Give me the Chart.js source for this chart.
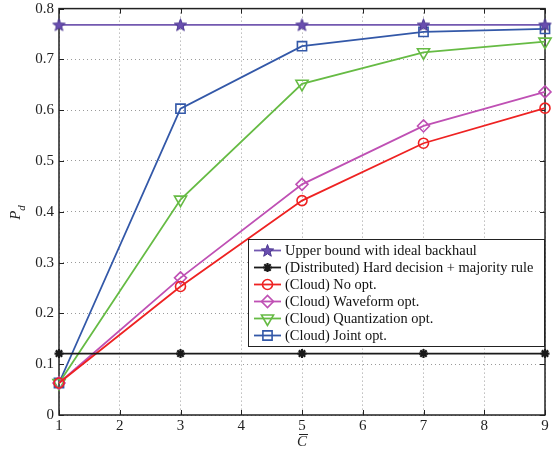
<!DOCTYPE html>
<html>
<head>
<meta charset="utf-8">
<script src="https://cdn.jsdelivr.net/npm/chart.js@4/dist/chart.umd.min.js"></script>
<style>
html,body{margin:0;padding:0;background:#fff;}
#wrap{width:554px;height:451px;}
</style>
</head>
<body>
<div id="wrap"><canvas id="c" width="554" height="451"></canvas></div>
<script>
// ---- data ----
const cValues = [1, 3, 5, 7, 9];
const upperBound = [0.768, 0.768, 0.768, 0.768, 0.768];
const hardDecision = [0.121, 0.121, 0.121, 0.121, 0.121];
const noOpt = [0.063, 0.253, 0.422, 0.535, 0.604];
const waveformOpt = [0.063, 0.270, 0.454, 0.569, 0.636];
const quantOpt = [0.063, 0.424, 0.652, 0.714, 0.735];
const jointOpt = [0.063, 0.603, 0.726, 0.754, 0.760];
const seriesLabels = [
  'Upper bound with ideal backhaul',
  '(Distributed) Hard decision + majority rule',
  '(Cloud) No opt.',
  '(Cloud) Waveform opt.',
  '(Cloud) Quantization opt.',
  '(Cloud) Joint opt.'
];
const xTicks = [1,2,3,4,5,6,7,8,9];
const yTicks = [0,0.1,0.2,0.3,0.4,0.5,0.6,0.7,0.8];

const FONT = '"Liberation Serif", "Times New Roman", serif';

function makeStar(fill, stroke, r) {
  const s = Math.ceil(r * 2 + 4);
  const cv = document.createElement('canvas');
  cv.width = s; cv.height = s;
  const g = cv.getContext('2d');
  const cx = s / 2, cy = s / 2 + 0.5;
  g.beginPath();
  for (let i = 0; i < 10; i++) {
    const rr = i % 2 === 0 ? r : r * 0.42;
    const a = -Math.PI / 2 + i * Math.PI / 5;
    const px = cx + rr * Math.cos(a), py = cy + rr * Math.sin(a);
    if (i === 0) g.moveTo(px, py); else g.lineTo(px, py);
  }
  g.closePath();
  g.fillStyle = fill; g.fill();
  g.strokeStyle = stroke; g.lineWidth = 1; g.stroke();
  return cv;
}
const starImg = makeStar('#6a4fb0', '#4a3590', 6.5);

const pts = arr => arr.map((v, i) => ({x: cValues[i], y: v}));

const datasets = [
  {label: seriesLabels[0], data: pts(upperBound), borderColor: '#7358b0', backgroundColor: '#7358b0',
   pointStyle: starImg, pointRadius: 6, borderWidth: 1.8},
  {label: seriesLabels[1], data: pts(hardDecision), borderColor: '#1a1a1a', backgroundColor: '#1a1a1a',
   pointStyle: 'star', pointRadius: 4.5, pointBorderWidth: 2.2, borderWidth: 1.8},
  {label: seriesLabels[2], data: pts(noOpt), borderColor: '#ee2222', backgroundColor: 'rgba(0,0,0,0)',
   pointStyle: 'circle', pointRadius: 5, pointBorderWidth: 1.6, borderWidth: 1.8},
  {label: seriesLabels[3], data: pts(waveformOpt), borderColor: '#bf50b4', backgroundColor: 'rgba(0,0,0,0)',
   pointStyle: 'rectRot', pointRadius: 6, pointBorderWidth: 1.6, borderWidth: 1.8},
  {label: seriesLabels[4], data: pts(quantOpt), borderColor: '#66bb44', backgroundColor: 'rgba(0,0,0,0)',
   pointStyle: 'triangle', pointRotation: 180, pointRadius: 7, pointBorderWidth: 1.6, borderWidth: 1.8},
  {label: seriesLabels[5], data: pts(jointOpt), borderColor: '#3358a8', backgroundColor: 'rgba(0,0,0,0)',
   pointStyle: 'rect', pointRadius: 6.5, pointBorderWidth: 1.6, borderWidth: 1.8}
];
datasets.forEach(d => { d.clip = false; d.tension = 0; d.fill = false; d.pointBackgroundColor = d.backgroundColor; d.pointBorderColor = d.borderColor; d.pointHoverRadius = d.pointRadius; });

const framePlugin = {
  id: 'frame',
  beforeDatasetsDraw(chart) {
    const {ctx, chartArea: a, scales} = chart;
    ctx.save();
    ctx.strokeStyle = '#222';
    ctx.lineWidth = 1;
    // inner tick marks
    ctx.beginPath();
    xTicks.forEach(t => {
      const x = Math.round(scales.x.getPixelForValue(t)) + 0.5;
      ctx.moveTo(x, a.bottom); ctx.lineTo(x, a.bottom - 5);
      ctx.moveTo(x, a.top); ctx.lineTo(x, a.top + 5);
    });
    yTicks.forEach(t => {
      const y = Math.round(scales.y.getPixelForValue(t)) + 0.5;
      ctx.moveTo(a.left, y); ctx.lineTo(a.left + 5, y);
      ctx.moveTo(a.right, y); ctx.lineTo(a.right - 5, y);
    });
    ctx.stroke();
    ctx.lineWidth = 1.5;
    ctx.strokeRect(a.left, a.top, a.right - a.left, a.bottom - a.top);
    ctx.restore();
  },
  afterDraw(chart) {
    const {ctx, chartArea: a} = chart;
    ctx.save();
    // y title P_d
    ctx.translate(20, (a.top + a.bottom) / 2);
    ctx.rotate(-Math.PI / 2);
    ctx.fillStyle = '#222';
    ctx.font = 'italic 15px ' + FONT;
    ctx.textBaseline = 'alphabetic';
    ctx.textAlign = 'left';
    ctx.fillText('P', -8, 0);
    ctx.font = 'italic 11px ' + FONT;
    ctx.fillText('d', 1, 5);
    ctx.restore();
    // x title C-bar
    ctx.save();
    ctx.fillStyle = '#222';
    ctx.font = 'italic 15px ' + FONT;
    ctx.textAlign = 'center';
    ctx.textBaseline = 'alphabetic';
    const cx = (a.left + a.right) / 2;
    ctx.fillText('C', cx, 446);
    ctx.strokeStyle = '#222';
    ctx.lineWidth = 1;
    ctx.beginPath();
    ctx.moveTo(cx - 3, 434.5); ctx.lineTo(cx + 6, 434.5);
    ctx.stroke();
    ctx.restore();

    // legend
    ctx.save();
    const lx = 248, ly = 239, lw = a.right - 248, lh = 107;
    ctx.fillStyle = '#fff';
    ctx.fillRect(lx, ly, lw, lh);
    ctx.strokeStyle = '#222';
    ctx.lineWidth = 1;
    ctx.strokeRect(lx + 0.5, ly + 0.5, lw - 1, lh);
    ctx.font = '14.4px ' + FONT;
    ctx.textBaseline = 'middle';
    ctx.textAlign = 'left';
    chart.data.datasets.forEach((d, i) => {
      const y = ly + 11.5 + i * 17;
      ctx.strokeStyle = d.borderColor;
      ctx.lineWidth = d.borderWidth;
      ctx.beginPath();
      ctx.moveTo(254, y); ctx.lineTo(281, y);
      ctx.stroke();
      ctx.fillStyle = d.pointBackgroundColor;
      ctx.strokeStyle = d.pointBorderColor;
      ctx.lineWidth = d.pointBorderWidth || 1;
      Chart.helpers.drawPoint(ctx, {
        pointStyle: d.pointStyle, rotation: d.pointRotation || 0,
        radius: d.pointRadius, borderWidth: d.pointBorderWidth || 1
      }, 267.5, y);
      ctx.fillStyle = '#111';
      ctx.fillText(d.label, 285, y + 1);
    });
    ctx.restore();
  }
};

new Chart(document.getElementById('c'), {
  type: 'line',
  data: {datasets},
  options: {
    responsive: false,
    devicePixelRatio: 1,
    animation: false,
    events: [],
    layout: {padding: {left: 0, top: 6, right: 9, bottom: 0}},
    plugins: {legend: {display: false}, tooltip: {enabled: false}},
    scales: {
      x: {
        type: 'linear', min: 1, max: 9,
        afterFit(s) { s.height = 36; s.paddingLeft = 0; s.paddingRight = 0; },
        afterBuildTicks(s) { s.ticks = xTicks.map(v => ({value: v})); },
        ticks: {color: '#222', font: {family: FONT, size: 15}, padding: 2, maxRotation: 0},
        grid: {color: '#9a9a9a', lineWidth: 1, drawTicks: false},
        border: {display: false, dash: [1, 3]}
      },
      y: {
        type: 'linear', min: 0, max: 0.8,
        afterFit(s) { s.width = 59; s.paddingTop = 0; s.paddingBottom = 0; },
        afterBuildTicks(s) { s.ticks = yTicks.map(v => ({value: v})); },
        ticks: {color: '#222', font: {family: FONT, size: 15}, padding: 5,
          callback: v => (Math.round(v * 10) / 10).toString()},
        grid: {color: '#9a9a9a', lineWidth: 1, drawTicks: false},
        border: {display: false, dash: [1, 3]}
      }
    }
  },
  plugins: [framePlugin]
});
</script>
</body>
</html>
